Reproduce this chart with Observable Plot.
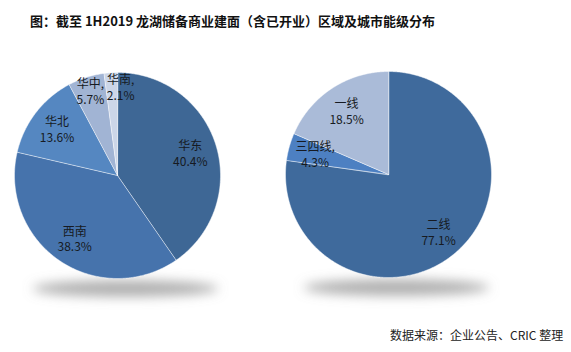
<!DOCTYPE html>
<html><head><meta charset="utf-8">
<script src="https://cdn.jsdelivr.net/npm/d3@7"></script>
<script src="https://cdn.jsdelivr.net/npm/@observablehq/plot@0.6"></script>
<style>
body{margin:0;background:#fff;width:571px;height:352px;overflow:hidden;font-family:"Noto Sans CJK SC","Noto Sans",sans-serif}
#title{position:absolute;left:30px;top:11px;font-size:13px;font-weight:bold;color:#111;white-space:nowrap}
#chart{position:absolute;left:0;top:36px}
#caption{position:absolute;left:390px;top:326px;font-size:12px;color:#222;white-space:nowrap}
</style></head><body>
<div id="title">图：截至 1H2019 龙湖储备商业建面（含已开业）区域及城市能级分布</div>
<div id="chart"></div>
<div id="caption">数据来源：企业公告、CRIC 整理</div>
<script>
// ---- data ----
const regionNames = ["华东", "西南", "华北", "华中", "华南"];
const regionShares = [40.4, 38.3, 13.6, 5.7, 2.1];
const regionColors = ["#3e6795", "#4673ac", "#5587c1", "#a1b4d4", "#ccd6e8"];
const tierNames = ["二线", "三四线", "一线"];
const tierShares = [77.1, 4.3, 18.5];
const tierColors = ["#3f6a9c", "#4d80c2", "#aabbd8"];

// ---- layout ----
const W = 571, H = 290;
const pies = [{cx: 117, cy: 139, r: 103}, {cx: 388, cy: 138, r: 103}];
const labelShift = {"华南": 9};

function buildSlices(names, shares, colors, pie) {
  const total = d3.sum(shares);
  let acc = 0;
  return names.map((name, i) => {
    const a0 = acc / total * 2 * Math.PI;
    acc += shares[i];
    const a1 = acc / total * 2 * Math.PI;
    const n = shares.length;
    const prev = shares[(i - 1 + n) % n], next = shares[(i + 1) % n];
    const small = shares[i] < 8;
    const crowded = small && (prev < 8 || next < 8);
    const k = crowded ? 0.86 : 0.74;
    const mid = (a0 + a1) / 2;
    const ring = [[pie.cx, pie.cy]];
    const steps = Math.max(2, Math.ceil((a1 - a0) / 0.01));
    for (let s = 0; s <= steps; s++) {
      const a = a0 + (a1 - a0) * s / steps;
      ring.push([pie.cx + pie.r * Math.sin(a), pie.cy - pie.r * Math.cos(a)]);
    }
    ring.push([pie.cx, pie.cy]);
    return {
      name, share: shares[i], color: colors[i],
      feature: {type: "Feature", properties: {}, geometry: {type: "Polygon", coordinates: [ring]}},
      lx: pie.cx + k * pie.r * Math.sin(mid) + (labelShift[name] || 0),
      ly: pie.cy - k * pie.r * Math.cos(mid),
      label: name + (small ? "," : "") + "\n" + shares[i].toFixed(1) + "%"
    };
  });
}

const slices = [
  ...buildSlices(regionNames, regionShares, regionColors, pies[0]),
  ...buildSlices(tierNames, tierShares, tierColors, pies[1])
];

function ellipse(p) {
  const ring = [];
  const cx = p.cx + 8, cy = p.cy + p.r + 10, rx = p.r * 0.9, ry = 8;
  for (let s = 0; s <= 72; s++) {
    const a = s / 72 * 2 * Math.PI;
    ring.push([cx + rx * Math.cos(a), cy + ry * Math.sin(a)]);
  }
  return {type: "Feature", properties: {}, geometry: {type: "Polygon", coordinates: [ring]}};
}
const shadows = pies.map(ellipse);

const svg = Plot.plot({
  width: W, height: H, margin: 0,
  projection: {type: "identity"},
  style: {fontFamily: '"Noto Sans CJK SC","Noto Sans",sans-serif', background: "#fff"},
  marks: [
    Plot.geo(shadows, {fill: "#8c8c8c", fillOpacity: 0.7, ariaLabel: "shadow"}),
    Plot.geo(slices.map(d => d.feature), {fill: slices.map(d => d.color), stroke: "#ffffff", strokeWidth: 0.8, strokeOpacity: 0.6}),
    Plot.text(slices, {x: "lx", y: "ly", text: "label", fill: "#161a22", fontSize: 12, lineHeight: 1.3, lineAnchor: "middle"})
  ]
});

const s = d3.select(svg);
const defs = s.insert("defs", ":first-child");
defs.append("filter").attr("id", "shblur").attr("x", "-50%").attr("y", "-200%").attr("width", "200%").attr("height", "500%")
  .append("feGaussianBlur").attr("stdDeviation", 6);
let sh = s.select('g[aria-label="shadow"]');
if (sh.empty()) sh = s.select('g[aria-label="geo"]');
sh.attr("filter", "url(#shblur)");

document.getElementById("chart").appendChild(svg);
</script>
</body></html>
